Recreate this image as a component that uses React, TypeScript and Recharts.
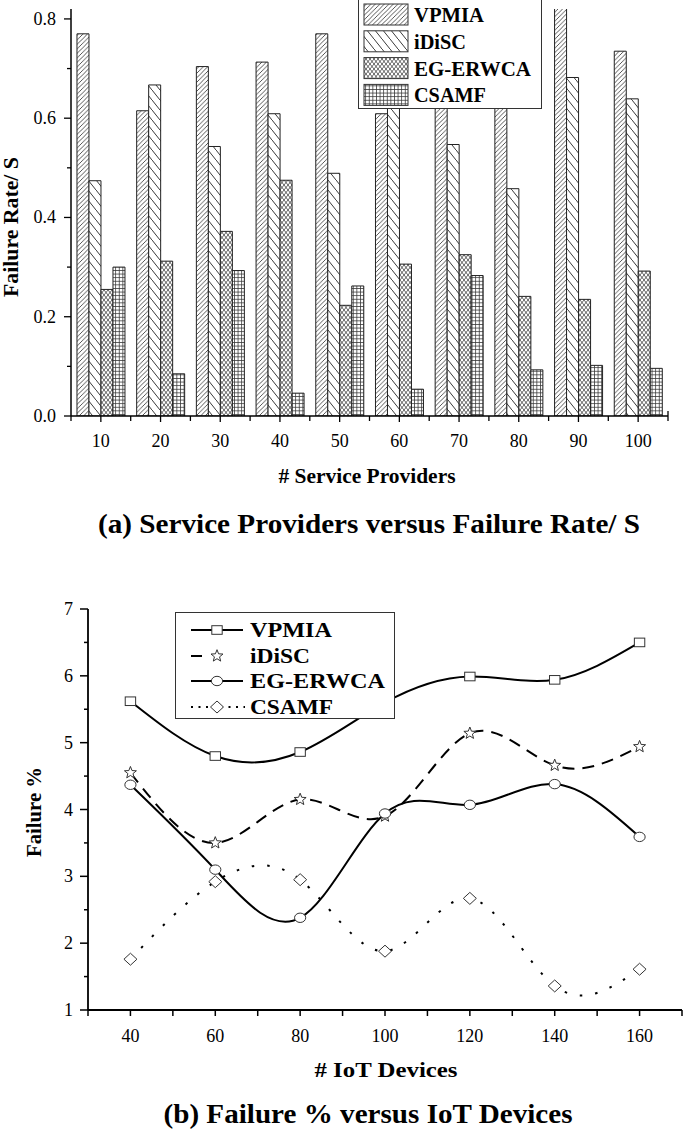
import React from 'react';
import { BarChart, Bar, XAxis, YAxis, LineChart, Line, Legend } from 'recharts';

// ---------- data: (a) Service Providers vs Failure Rate/ S ----------
const providers = ['10', '20', '30', '40', '50', '60', '70', '80', '90', '100'];
const vpmiaRate = [0.77, 0.615, 0.704, 0.713, 0.77, 0.609, 0.66, 0.655, 0.85, 0.735];
const idiscRate = [0.474, 0.667, 0.543, 0.609, 0.489, 0.65, 0.547, 0.458, 0.682, 0.639];
const egRate = [0.255, 0.312, 0.372, 0.475, 0.223, 0.306, 0.325, 0.241, 0.235, 0.292];
const csamfRate = [0.3, 0.085, 0.293, 0.046, 0.262, 0.054, 0.283, 0.093, 0.102, 0.096];
const rateTicks = [0, 0.1, 0.2, 0.3, 0.4, 0.5, 0.6, 0.7, 0.8];

// ---------- data: (b) Failure % vs IoT Devices ----------
const devices = [40, 60, 80, 100, 120, 140, 160];
const vpmiaFail = [5.62, 4.8, 4.86, 5.6, 5.99, 5.94, 6.5];
const idiscFail = [4.55, 3.5, 4.15, 3.9, 5.14, 4.66, 4.94];
const egFail = [4.37, 3.1, 2.38, 3.94, 4.07, 4.38, 3.59];
const csamfFail = [1.76, 2.92, 2.95, 1.88, 2.67, 1.36, 1.61];
const deviceTicks = [30, 40, 50, 60, 70, 80, 90, 100, 110, 120, 130, 140, 150, 160, 170];
const failTicks = [1, 1.5, 2, 2.5, 3, 3.5, 4, 4.5, 5, 5.5, 6, 6.5, 7];

const seriesNames = ['VPMIA', 'iDiSC', 'EG-ERWCA', 'CSAMF'];

const barData = providers.map((p, i) => ({
  name: p,
  VPMIA: vpmiaRate[i],
  iDiSC: idiscRate[i],
  'EG-ERWCA': egRate[i],
  CSAMF: csamfRate[i],
}));

const lineData = devices.map((d, i) => ({
  x: d,
  VPMIA: vpmiaFail[i],
  iDiSC: idiscFail[i],
  'EG-ERWCA': egFail[i],
  CSAMF: csamfFail[i],
}));

const FONT = "'Liberation Serif', 'Times New Roman', Times, serif";
const patternIds = ['p-vpmia', 'p-idisc', 'p-eg', 'p-csamf'];

// ---------- ticks ----------
const BarYTick = (props: any) => {
  const { x, y, payload } = props;
  const v = payload.value;
  const major = Math.round(v * 10) % 2 === 0;
  return (
    <g>
      <line x1={x} x2={x - (major ? 7 : 4)} y1={y} y2={y} stroke="#000" strokeWidth={1.3} />
      {major && (
        <text x={x - 15} y={y} dy={6} textAnchor="end" fontFamily={FONT} fontSize={18} fill="#000">
          {v.toFixed(1)}
        </text>
      )}
    </g>
  );
};

const BarXTick = (props: any) => {
  const { x, y, payload, index, visibleTicksCount } = props;
  const half = payload && payload.offset ? payload.offset : 29.85;
  const last = index === visibleTicksCount - 1;
  return (
    <g>
      <line x1={x} x2={x} y1={y} y2={y + 6} stroke="#000" strokeWidth={1.3} />
      <line x1={x - half} x2={x - half} y1={y} y2={y + 5} stroke="#000" strokeWidth={1.3} />
      {last && <line x1={x + half} x2={x + half} y1={y - 5} y2={y + 5} stroke="#000" strokeWidth={1.3} />}
      <text x={x} y={y + 31} textAnchor="middle" fontFamily={FONT} fontSize={18} fill="#000">
        {payload.value}
      </text>
    </g>
  );
};

const LineYTick = (props: any) => {
  const { x, y, payload } = props;
  const v = payload.value;
  const major = Number.isInteger(v);
  return (
    <g>
      <line x1={x} x2={x - (major ? 8 : 4)} y1={y} y2={y} stroke="#000" strokeWidth={1.5} />
      {major && (
        <text x={x - 15} y={y} dy={6} textAnchor="end" fontFamily={FONT} fontSize={18} fill="#000">
          {v}
        </text>
      )}
    </g>
  );
};

const LineXTick = (props: any) => {
  const { x, y, payload } = props;
  const v = payload.value;
  const labeled = v % 20 === 0 && v >= 40 && v <= 160;
  return (
    <g>
      <line x1={x} x2={x} y1={y} y2={y + 6} stroke="#000" strokeWidth={1.5} />
      {labeled && (
        <text x={x} y={y + 32} textAnchor="middle" fontFamily={FONT} fontSize={18} fill="#000">
          {v}
        </text>
      )}
    </g>
  );
};

// ---------- markers ----------
function starPoints(cx: number, cy: number, R: number, r: number) {
  const pts: string[] = [];
  for (let i = 0; i < 10; i++) {
    const a = -Math.PI / 2 + (i * Math.PI) / 5;
    const rad = i % 2 === 0 ? R : r;
    pts.push(`${cx + rad * Math.cos(a)},${cy + rad * Math.sin(a)}`);
  }
  return pts.join(' ');
}

const Marker = ({ kind, cx, cy }: { kind: string; cx: number; cy: number }) => {
  if (cx == null || cy == null) return null;
  const st = { fill: '#fff', stroke: '#333', strokeWidth: 1 };
  if (kind === 'square') return <rect x={cx - 5.2} y={cy - 4.3} width={10.4} height={8.6} {...st} />;
  if (kind === 'star') return <polygon points={starPoints(cx, cy, 6.3, 2.7)} {...st} />;
  if (kind === 'circle') return <ellipse cx={cx} cy={cy} rx={5.6} ry={4.7} {...st} />;
  return <polygon points={`${cx},${cy - 6} ${cx + 6.5},${cy} ${cx},${cy + 6} ${cx - 6.5},${cy}`} {...st} />;
};

const markerKinds = ['square', 'star', 'circle', 'diamond'];

// ---------- legends ----------
const BarLegend = () => {
  const widths = [70, 52, 117, 72];
  return (
    <svg width={184} height={110} style={{ display: 'block' }}>
      <rect x={0.5} y={0.5} width={183} height={109} fill="#fff" stroke="#333" strokeWidth={1} />
      {seriesNames.map((n, i) => {
        const cy = 15.5 + i * 26.8;
        return (
          <g key={n}>
            <rect x={6} y={cy - 10.5} width={44} height={21} fill={`url(#${patternIds[i]})`} stroke="#333" strokeWidth={1} />
            <text x={56} y={cy + 7.5} fontFamily={FONT} fontWeight="bold" fontSize={21} fill="#000"
              textLength={widths[i]} lengthAdjust="spacingAndGlyphs">
              {n}
            </text>
          </g>
        );
      })}
    </svg>
  );
};

const LineLegend = () => {
  const widths = [82, 60, 135, 83];
  const rows = [18, 44, 69, 95];
  return (
    <svg width={220} height={107} style={{ display: 'block' }}>
      <rect x={0.5} y={0.5} width={219} height={106} fill="#fff" stroke="#333" strokeWidth={1} />
      {seriesNames.map((n, i) => {
        const cy = rows[i];
        let sample: any = null;
        if (i === 0 || i === 2) sample = <line x1={16} x2={68} y1={cy} y2={cy} stroke="#000" strokeWidth={2} />;
        if (i === 1) sample = <line x1={16} x2={27} y1={cy} y2={cy} stroke="#000" strokeWidth={2} />;
        if (i === 3)
          sample = <line x1={16} x2={70} y1={cy} y2={cy} stroke="#000" strokeWidth={2} strokeDasharray="2 5.5" />;
        return (
          <g key={n}>
            {sample}
            <Marker kind={markerKinds[i]} cx={42} cy={cy} />
            <text x={75} y={cy + 7} fontFamily={FONT} fontWeight="bold" fontSize={20} fill="#000"
              textLength={widths[i]} lengthAdjust="spacingAndGlyphs">
              {n}
            </text>
          </g>
        );
      })}
    </svg>
  );
};

const lineStyles = [
  { dash: undefined },
  { dash: '12 8' },
  { dash: undefined },
  { dash: '2.5 13' },
];

export default function App() {
  return (
    <div style={{ position: 'absolute', left: 0, top: 0, width: 685, height: 1133, background: '#fff' }}>
      <svg width={0} height={0} style={{ position: 'absolute' }}>
        <defs>
          <pattern id="p-vpmia" patternUnits="userSpaceOnUse" width={4.5} height={4.5}>
            <rect width={4.5} height={4.5} fill="#fff" />
            <path d="M-1,1 L1,-1 M0,4.5 L4.5,0 M3.5,5.5 L5.5,3.5" stroke="#444" strokeWidth={0.9} />
          </pattern>
          <pattern id="p-idisc" patternUnits="userSpaceOnUse" width={8} height={10}>
            <rect width={8} height={10} fill="#fff" />
            <path d="M-0.8,-1 L8.8,11" stroke="#222" strokeWidth={0.9} />
          </pattern>
          <pattern id="p-eg" patternUnits="userSpaceOnUse" width={4} height={5}>
            <rect width={4} height={5} fill="#fff" />
            <path d="M-0.4,-0.5 L4.4,5.5 M4.4,-0.5 L-0.4,5.5" stroke="#333" strokeWidth={0.75} />
          </pattern>
          <pattern id="p-csamf" patternUnits="userSpaceOnUse" width={3.6} height={3.6}>
            <rect width={3.6} height={3.6} fill="#fff" />
            <path d="M0,0.4 H3.6 M0.4,0 V3.6" stroke="#333" strokeWidth={0.8} />
          </pattern>
        </defs>
      </svg>

      <div style={{ position: 'absolute', left: 0, top: 0 }}>
        <BarChart width={685} height={460} data={barData} margin={{ top: 9, right: 17, bottom: 4, left: 0 }}
          barCategoryGap="10%" barGap={0}>
          <XAxis dataKey="name" height={40} interval={0} tickSize={0} tickMargin={0} tickLine={false}
            axisLine={{ stroke: '#000', strokeWidth: 1.5 }} tick={<BarXTick />} />
          <YAxis width={71} domain={[0, 0.82]} allowDataOverflow ticks={rateTicks} interval={0} tickSize={0}
            tickMargin={0} tickLine={false} axisLine={{ stroke: '#000', strokeWidth: 1.5 }} tick={<BarYTick />} />
          {seriesNames.map((n, i) => (
            <Bar key={n} dataKey={n} fill={`url(#${patternIds[i]})`} stroke="#222" strokeWidth={1}
              isAnimationActive={false} />
          ))}
          <Legend layout="horizontal" verticalAlign="middle" align="center" content={<BarLegend />}
            wrapperStyle={{ position: 'absolute', left: 358, top: -1, width: 184, height: 110 }} />
        </BarChart>
      </div>

      <div style={{ position: 'absolute', left: 0, top: 560 }}>
        <LineChart width={685} height={494} data={lineData} margin={{ top: 49, right: 3, bottom: 4, left: 0 }}>
          <XAxis dataKey="x" type="number" domain={[30, 170]} ticks={deviceTicks} interval={0} height={40}
            tickSize={0} tickMargin={0} tickLine={false} axisLine={{ stroke: '#000', strokeWidth: 1.8 }}
            tick={<LineXTick />} />
          <YAxis width={88} domain={[1, 7]} ticks={failTicks} interval={0} tickSize={0} tickMargin={0}
            tickLine={false} axisLine={{ stroke: '#000', strokeWidth: 1.8 }} tick={<LineYTick />} />
          {seriesNames.map((n, i) => (
            <Line key={n} type="natural" dataKey={n} stroke="#000" strokeWidth={2}
              strokeDasharray={lineStyles[i].dash} isAnimationActive={false}
              dot={(p: any) => <Marker key={`${n}-${p.index}`} kind={markerKinds[i]} cx={p.cx} cy={p.cy} />}
              activeDot={false} />
          ))}
          <Legend layout="horizontal" verticalAlign="middle" align="center" content={<LineLegend />}
            wrapperStyle={{ position: 'absolute', left: 175, top: 52, width: 220, height: 107 }} />
        </LineChart>
      </div>

      <svg width={685} height={1133} style={{ position: 'absolute', left: 0, top: 0, pointerEvents: 'none' }}>
        <text transform="translate(18,227) rotate(-90)" textAnchor="middle" fontFamily={FONT} fontWeight="bold"
          fontSize={20} textLength={140} lengthAdjust="spacingAndGlyphs">Failure Rate/ S</text>
        <text x={367} y={483} textAnchor="middle" fontFamily={FONT} fontWeight="bold" fontSize={20}
          textLength={177} lengthAdjust="spacingAndGlyphs"># Service Providers</text>
        <text x={369} y={533} textAnchor="middle" fontFamily={FONT} fontWeight="bold" fontSize={27}
          textLength={542} lengthAdjust="spacingAndGlyphs">(a) Service Providers versus Failure Rate/ S</text>
        <text transform="translate(41,812) rotate(-90)" textAnchor="middle" fontFamily={FONT} fontWeight="bold"
          fontSize={20} textLength={90} lengthAdjust="spacingAndGlyphs">Failure %</text>
        <text x={386} y={1077} textAnchor="middle" fontFamily={FONT} fontWeight="bold" fontSize={20}
          textLength={143} lengthAdjust="spacingAndGlyphs"># IoT Devices</text>
        <text x={368} y={1123} textAnchor="middle" fontFamily={FONT} fontWeight="bold" fontSize={27}
          textLength={409} lengthAdjust="spacingAndGlyphs">(b) Failure % versus IoT Devices</text>
      </svg>
    </div>
  );
}
